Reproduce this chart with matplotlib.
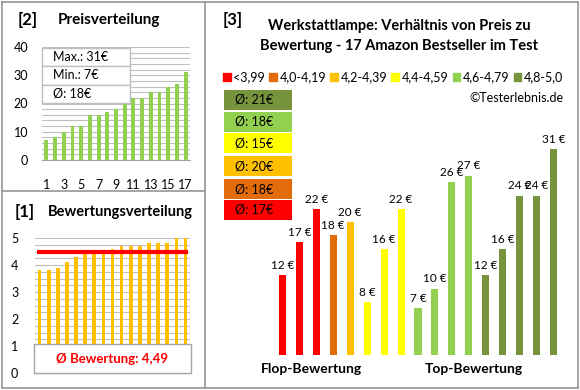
import matplotlib
matplotlib.use("Agg")
import matplotlib.pyplot as plt
from matplotlib.patches import Rectangle
from matplotlib.lines import Line2D
import numpy as np

plt.rcParams['font.family'] = ['Lato', 'DejaVu Sans']

# --- data ---
prices_sorted = [7, 8, 10, 12, 12, 16, 16, 17, 18, 20, 22, 22, 24, 24, 26, 27, 31]
ratings_sorted = [3.8, 3.8, 3.9, 4.1, 4.3, 4.4, 4.4, 4.4, 4.6, 4.7, 4.7, 4.7, 4.8, 4.8, 4.8, 5.0, 5.0]
rating_avg = 4.49

price_by_rating = [12, 17, 22, 18, 20, 8, 16, 22, 7, 10, 26, 27, 12, 16, 24, 24, 31]
group_of_bar = [0, 0, 0, 1, 2, 3, 3, 3, 4, 4, 4, 4, 5, 5, 5, 5, 5]
group_labels = ['<3,99', '4,0-4,19', '4,2-4,39', '4,4-4,59', '4,6-4,79', '4,8-5,0']
group_colors = ['#FF0000', '#E36C0A', '#FFC000', '#FFFF00', '#92D050', '#77933C']
group_avgs = [17, 18, 20, 15, 18, 21]

W, H = 580, 390
fig = plt.figure(figsize=(W / 100, H / 100), dpi=100)
fig.patch.set_facecolor('white')


def rect(x0, y0, x1, y1):
    # pixel box (top-left origin) -> figure fraction
    return [x0 / W, 1 - y1 / H, (x1 - x0) / W, (y1 - y0) / H]


def fx(x):
    return x / W


def fy(y):
    return 1 - y / H


grid_c = '#BFBFBF'
frame_c = '#969696'

# frames
for xs, ys in [([2, 578], [2, 2]), ([2, 578], [388, 388]), ([2, 2], [2, 388]),
               ([578, 578], [2, 388]), ([205, 205], [2, 388]), ([2, 205], [191, 191])]:
    fig.add_artist(Line2D([fx(x) for x in xs], [fy(y) for y in ys], color=frame_c, lw=1.2))

# ---------- [2] Preisverteilung ----------
ax2 = fig.add_axes(rect(42, 47, 190, 160))
x = np.arange(1, len(prices_sorted) + 1)
ax2.bar(x, prices_sorted, width=0.45, color='#92D050', zorder=3)
ax2.set_xlim(0.5, 17.5)
ax2.set_ylim(0, 40)
ax2.set_yticks(np.arange(0, 41, 2), minor=True)
ax2.set_yticks([0, 10, 20, 30, 40])
ax2.set_xticks(x[::2])
ax2.grid(axis='y', which='both', color=grid_c, lw=0.8, zorder=0)
for s in ['top', 'right', 'left']:
    ax2.spines[s].set_visible(False)
ax2.spines['bottom'].set_color('#A0A0A0')
ax2.tick_params(length=0, which='both', labelsize=9)
ax2.tick_params(axis='y', pad=10)
ax2.tick_params(axis='x', pad=14)

stats = ['Max.: %d€' % max(prices_sorted), 'Min.: %d€' % min(prices_sorted),
         'Ø: %d€' % round(np.mean(prices_sorted))]
row_y = [48, 66.3, 84.6, 103]
for i, s in enumerate(stats):
    fig.patches.append(Rectangle((fx(42), fy(row_y[i + 1])), fx(130) - fx(42),
                                 fy(row_y[i]) - fy(row_y[i + 1]), transform=fig.transFigure,
                                 facecolor='white', edgecolor='#BFBFBF', lw=1, zorder=5))
    fig.text(fx(53), fy((row_y[i] + row_y[i + 1]) / 2), s, fontsize=9, va='center', ha='left', zorder=6)

fig.text(fx(18), fy(20), '[2]', fontsize=12, fontweight='bold', va='center')
fig.text(fx(58), fy(20), 'Preisverteilung', fontsize=11, fontweight='bold', va='center')

# ---------- [1] Bewertungsverteilung ----------
ax1 = fig.add_axes(rect(35, 238, 190, 373))
ax1.bar(x, ratings_sorted, width=0.4, color='#FFC000', zorder=3)
ax1.hlines(rating_avg, 0.75, 17.3, color='#FF0000', lw=3, zorder=4)
ax1.set_xlim(0.5, 17.5)
ax1.set_ylim(0, 5)
ax1.set_yticks(np.arange(0, 5.01, 0.25), minor=True)
ax1.set_yticks([0, 1, 2, 3, 4, 5])
ax1.set_xticks([])
ax1.grid(axis='y', which='both', color=grid_c, lw=0.8, zorder=0)
for s in ['top', 'right', 'left']:
    ax1.spines[s].set_visible(False)
ax1.spines['bottom'].set_color('#A0A0A0')
ax1.tick_params(length=0, which='both', labelsize=9, pad=12)
ax1.add_patch(Rectangle((-0.006, 0), 1.012, 1.06 / 5, transform=ax1.transAxes, facecolor='white',
                        edgecolor='#A6A6A6', lw=1, zorder=6, clip_on=False))
ax1.text(0.5, 0.5 / 5 + 0.005, 'Ø Bewertung: ' + ('%.2f' % rating_avg).replace('.', ','),
         transform=ax1.transAxes, ha='center', va='center', color='#FF0000',
         fontsize=9.5, fontweight='bold', zorder=7)

fig.text(fx(15), fy(212), '[1]', fontsize=12, fontweight='bold', va='center')
fig.text(fx(48), fy(212), 'Bewertungsverteilung', fontsize=10.5, fontweight='bold', va='center')

# ---------- [3] Preis vs Bewertung ----------
ax3 = fig.add_axes(rect(274, 90, 562, 355))
cols = [group_colors[g] for g in group_of_bar]
bars = ax3.bar(x, price_by_rating, width=0.42, color=cols)
ax3.set_xlim(0.5, 17.5)
ax3.set_ylim(0, 265 / (206 / 31))
ax3.axis('off')
for b, v in zip(bars, price_by_rating):
    ax3.annotate('%d €' % v, (b.get_x() + b.get_width() / 2, v), xytext=(0, 3),
                 textcoords='offset points', ha='center', va='bottom', fontsize=8.5, clip_on=False)

handles = [Rectangle((0, 0), 1, 1, color=c) for c in group_colors]
fig.legend(handles, group_labels, loc='center', bbox_to_anchor=(fx(393), fy(77)), ncol=6,
           frameon=False, fontsize=9, handlelength=0.6, handleheight=0.6, handletextpad=0.2,
           columnspacing=0.35, borderpad=0)

box_tops = [90, 112, 133, 156, 179, 200]
for i, top in enumerate(box_tops):
    g = len(group_colors) - 1 - i
    fig.patches.append(Rectangle((fx(224), fy(top + 20)), fx(292) - fx(224), fy(top) - fy(top + 20),
                                 transform=fig.transFigure, facecolor=group_colors[g],
                                 edgecolor='none', zorder=5))
    fig.text(fx(235), fy(top + 10), 'Ø: %d€' % group_avgs[g], fontsize=9, va='center', zorder=6)

fig.text(fx(223), fy(20), '[3]', fontsize=12, fontweight='bold', va='center')
fig.text(fx(399), fy(26), 'Werkstattlampe: Verhältnis von Preis zu', fontsize=10.5,
         fontweight='bold', ha='center', va='center')
fig.text(fx(399), fy(46), 'Bewertung - 17 Amazon Bestseller im Test', fontsize=10.5,
         fontweight='bold', ha='center', va='center')
fig.text(fx(563), fy(98), '©Testerlebnis.de', fontsize=9, ha='right', va='center')
fig.text(fx(311), fy(369), 'Flop-Bewertung', fontsize=10, fontweight='bold', ha='center', va='center')
fig.text(fx(474), fy(369), 'Top-Bewertung', fontsize=10, fontweight='bold', ha='center', va='center')

fig.savefig('out.png', dpi=100)
